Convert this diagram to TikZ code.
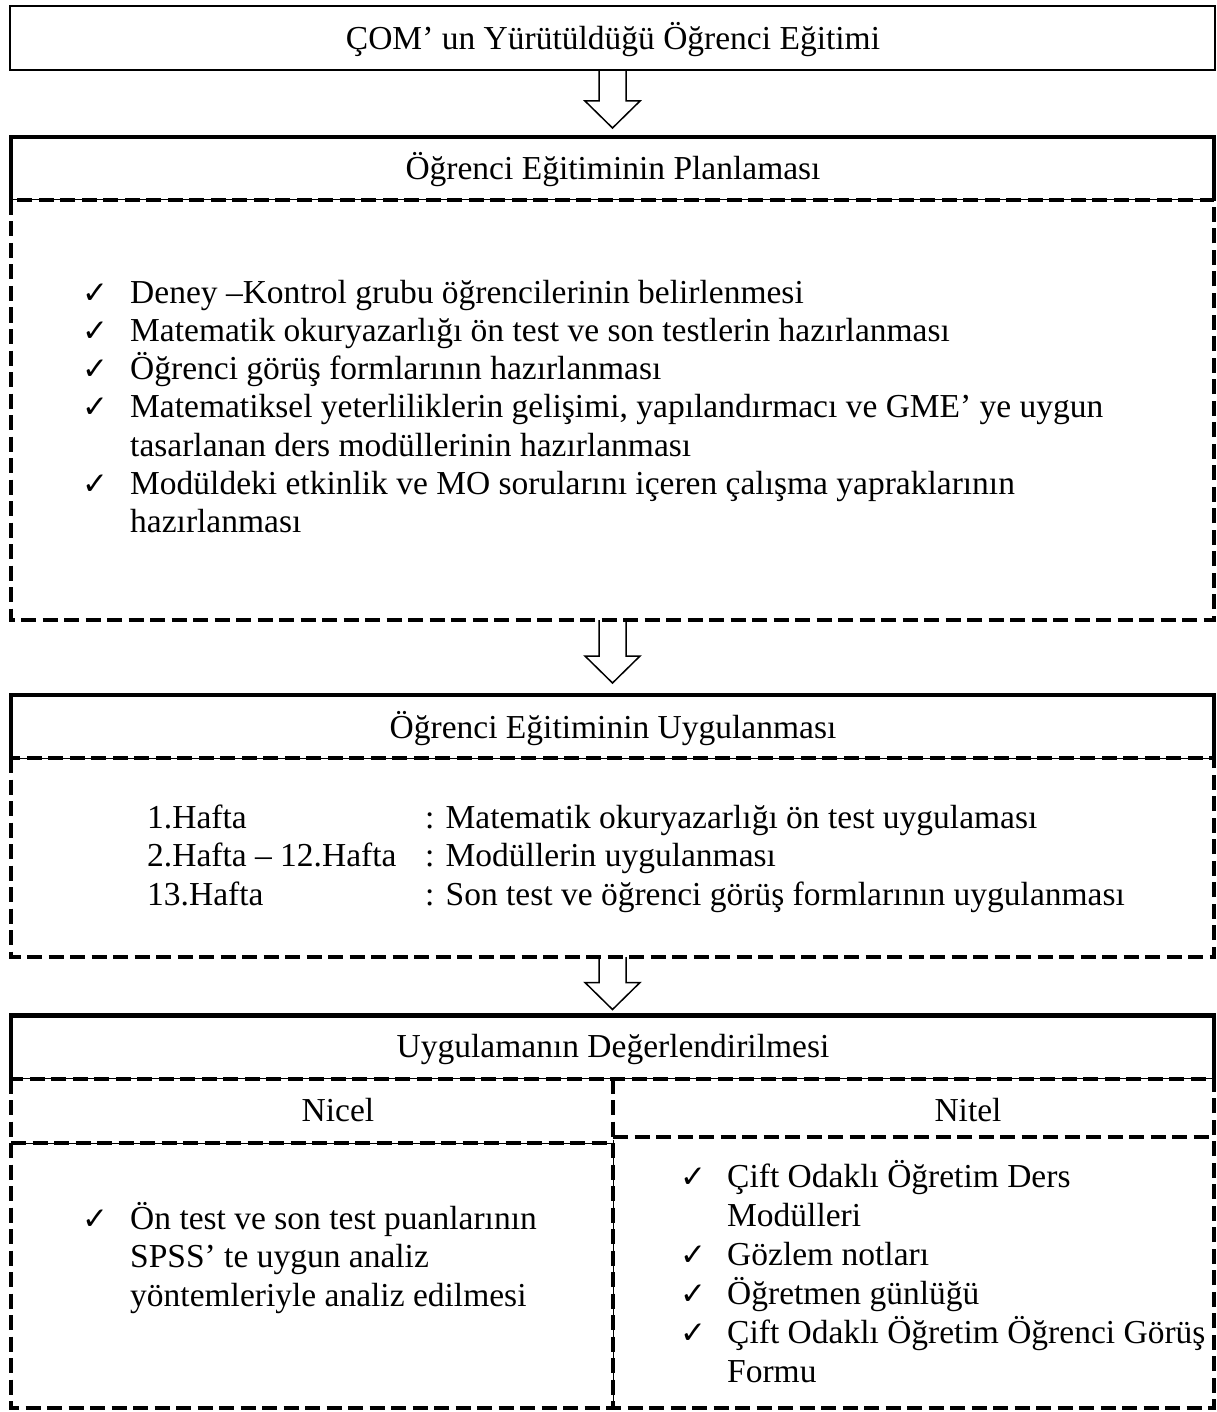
\documentclass[tikz,border=0pt]{standalone}
\usepackage{fontspec}
\setmainfont{Liberation Serif}
\newfontfamily\symfont{DejaVu Sans}
\usetikzlibrary{calc,backgrounds}
\tikzset{
  txt/.style={font=\fontsize{33.5}{38}\selectfont, inner sep=0pt, anchor=base west},
  ctxt/.style={font=\fontsize{33.5}{38}\selectfont, inner sep=0pt, anchor=base},
  chk/.style={font=\symfont\fontsize{31}{34}\selectfont, inner sep=0pt, anchor=base},
  topbox/.style={draw, line width=2pt, minimum width=1205pt, minimum height=64pt, inner sep=0pt, outer sep=0pt},
  hdrbox/.style={draw, line width=1pt, minimum width=1203pt, minimum height=63pt, inner sep=0pt, outer sep=0pt},
  thickedge/.style={line width=4.5pt, line join=miter},
  dashedge/.style={line width=4pt, dash pattern=on 15pt off 6.5pt},
  thinedge/.style={line width=1pt},
  arrowshape/.style={draw, line width=1.5pt, fill=white, line join=miter},
}
\newcommand\blockarrow[3]{%
  \draw[arrowshape] let \p1=(#1), \p2=(#2) in
    (\x1-13.5pt,\y1) -- (\x1-13.5pt,\y2+#3pt+27pt) -- (\x1-27.5pt,\y2+#3pt+27pt)
    -- (\x1,\y2+#3pt) -- (\x1+27.5pt,\y2+#3pt+27pt) -- (\x1+13.5pt,\y2+#3pt+27pt)
    -- (\x1+13.5pt,\y1);}
\begin{document}
\begin{tikzpicture}[x=1pt,y=-1pt]
\useasboundingbox (0,0) rectangle (1216,1412);

% ---------- box 1
\node[topbox] (b1) at (612.5,38) {};
\node[ctxt] (t1) at (613,50) {ÇOM’ un Yürütüldüğü Öğrenci Eğitimi};

% ---------- box 2
\node[hdrbox] (h2) at (612.5,168.5) {};
\coordinate (b2se) at (1214,620);
\coordinate (b2s) at (612.5,620);
\draw[dashedge] (h2.south west) rectangle (b2se);
\draw[thickedge] (h2.south west) -- (h2.north west) -- (h2.north east) -- (h2.south east);
\node[ctxt] (t2) at (613,180) {Öğrenci Eğitiminin Planlaması};

\node[chk] (c1) at (95,303) {✓};
\node[txt] (p1) at (130,303) {Deney –Kontrol grubu öğrencilerinin belirlenmesi};
\node[chk] (c2) at (95,341) {✓};
\node[txt] (p2) at (130,341) {Matematik okuryazarlığı ön test ve son testlerin hazırlanması};
\node[chk] (c3) at (95,379) {✓};
\node[txt] (p3) at (130,379) {Öğrenci görüş formlarının hazırlanması};
\node[chk] (c4) at (95,417) {✓};
\node[txt] (p4) at (130,417) {Matematiksel yeterliliklerin gelişimi, yapılandırmacı ve GME’ ye uygun};
\node[txt] (p4b) at (130,456) {tasarlanan ders modüllerinin hazırlanması};
\node[chk] (c5) at (95,494) {✓};
\node[txt] (p5) at (130,494) {Modüldeki etkinlik ve MO sorularını içeren çalışma yapraklarının};
\node[txt] (p5b) at (130,532) {hazırlanması};

% ---------- box 3
\node[hdrbox] (h3) at (612.5,726.5) {};
\coordinate (b3se) at (1214,957);
\coordinate (b3s) at (612.5,957);
\draw[dashedge] (h3.south west) rectangle (b3se);
\draw[thickedge] (h3.south west) -- (h3.north west) -- (h3.north east) -- (h3.south east);
\node[ctxt] (t3) at (613,738) {Öğrenci Eğitiminin Uygulanması};

\node[txt] (r1a) at (147,828) {1.Hafta};
\node[txt] (r1b) at (425,828) {: Matematik okuryazarlığı ön test uygulaması};
\node[txt] (r2a) at (147,866) {2.Hafta – 12.Hafta};
\node[txt] (r2b) at (425,866) {: Modüllerin uygulanması};
\node[txt] (r3a) at (147,905) {13.Hafta};
\node[txt] (r3b) at (425,905) {: Son test ve öğrenci görüş formlarının uygulanması};

% ---------- box 4
\node[hdrbox] (h4) at (612.5,1047) {};
\coordinate (b4se) at (1214,1408);
\coordinate (dtop) at (613,1078.5);
\coordinate (dmid) at (613,1140);
\coordinate (dbot) at (613,1408);
\coordinate (lrow) at (11,1143);
\coordinate (lrowe) at (613,1143);
\coordinate (rrow) at (1214,1137);
\coordinate (rrows) at (613,1137);
\draw[thinedge] (dmid) -- (dbot);
\draw[thinedge] (lrow) -- (lrowe);
\draw[dashedge] (h4.south west) rectangle (b4se);
\draw[dashedge] (dtop) -- (dbot);
\draw[dashedge] (lrow) -- (lrowe);
\draw[dashedge] (rrows) -- (rrow);
\draw[thickedge] (h4.south west) -- (h4.north west) -- (h4.north east) -- (h4.south east);
\node[ctxt] (t4) at (613,1057) {Uygulamanın Değerlendirilmesi};
\node[ctxt] (nicel) at (338,1121) {Nicel};
\node[ctxt] (nitel) at (968,1121) {Nitel};

\node[chk] (lc1) at (95,1229) {✓};
\node[txt] (l1) at (130,1229) {Ön test ve son test puanlarının};
\node[txt] (l2) at (130,1267) {SPSS’ te uygun analiz};
\node[txt] (l3) at (130,1306) {yöntemleriyle analiz edilmesi};

\node[chk] (rc1) at (693,1187) {✓};
\node[txt] (q1) at (727,1187) {Çift Odaklı Öğretim Ders};
\node[txt] (q1b) at (727,1226) {Modülleri};
\node[chk] (rc2) at (693,1265) {✓};
\node[txt] (q2) at (727,1265) {Gözlem notları};
\node[chk] (rc3) at (693,1304) {✓};
\node[txt] (q3) at (727,1304) {Öğretmen günlüğü};
\node[chk] (rc4) at (693,1343) {✓};
\node[txt] (q4) at (727,1343) {Çift Odaklı Öğretim Öğrenci Görüş};
\node[txt] (q4b) at (727,1382) {Formu};

% ---------- arrows (behind the box edges)
\begin{pgfonlayer}{background}
\fill[white] (0,0) rectangle (1216,1412);
\blockarrow{b1.south}{h2.north}{9}
\blockarrow{b2s}{h3.north}{12}
\blockarrow{b3s}{h4.north}{6}
\end{pgfonlayer}
\end{tikzpicture}
\end{document}
